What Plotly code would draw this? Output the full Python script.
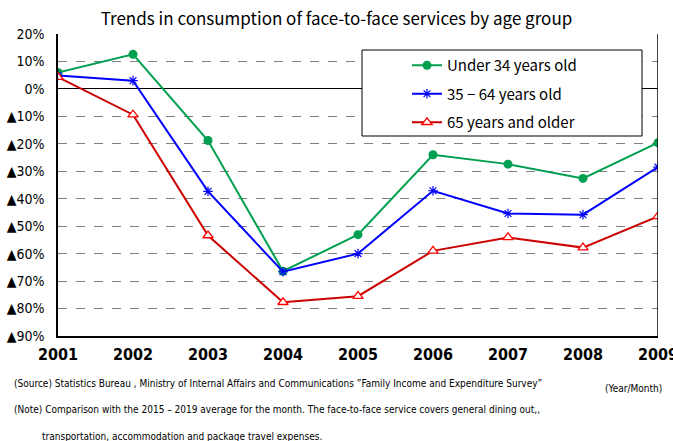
import plotly.graph_objects as go

years = [2001, 2002, 2003, 2004, 2005, 2006, 2007, 2008, 2009]
under34 = [6.0, 12.6, -18.8, -66.4, -53.1, -24.0, -27.4, -32.6, -19.6]
age35_64 = [4.9, 3.0, -37.3, -66.6, -60.0, -37.1, -45.4, -45.8, -28.5]
over65 = [4.3, -9.4, -53.4, -77.7, -75.5, -59.0, -54.1, -57.8, -46.4]

tick_vals = [20, 10, 0, -10, -20, -30, -40, -50, -60, -70, -80, -90]
tick_text = ["20%", "10%", "0%"] + ["▲%d%%" % (-v) for v in tick_vals[3:]]

FONT = "Noto Sans CJK JP"
NARROW = "DejaVu Sans Condensed, sans-serif"

fig = go.Figure()
fig.add_trace(go.Scatter(x=years, y=under34, name="Under 34 years old", mode="lines+markers",
                         legendgroup="a",
                         line=dict(color="#00a050", width=2),
                         marker=dict(symbol="circle", size=9, color="#00a050")))
fig.add_trace(go.Scatter(x=years, y=age35_64, name="35 − 64 years old", mode="lines+markers",
                         legendgroup="b",
                         line=dict(color="#0000ff", width=2),
                         marker=dict(symbol="asterisk-open", size=8, color="#0000ff", line=dict(width=1.2, color="#0000ff"))))
fig.add_trace(go.Scatter(x=years, y=over65, name="65 years and older", mode="lines+markers",
                         legendgroup="c",
                         line=dict(color="#cc0000", width=2),
                         marker=dict(symbol="triangle-up", size=9, color="white", line=dict(width=1.3, color="#ff0000"))))

fig.update_layout(
    width=673, height=441,
    margin=dict(l=58, r=15, t=34, b=105, autoexpand=False),
    paper_bgcolor="white", plot_bgcolor="white",
    font=dict(family=FONT, color="black", size=13),
    title=dict(text="Trends in consumption of face-to-face services by age group",
               x=0.5, xanchor="center", y=0.957, yanchor="middle",
               font=dict(size=17, family=FONT)),
    showlegend=True,
    legend=dict(x=(407 - 58) / 600, y=(336 - 49) / 302, xanchor="left", yanchor="top",
                borderwidth=0, bgcolor="rgba(0,0,0,0)",
                font=dict(size=15, family=FONT), itemwidth=30,
                tracegroupgap=6, traceorder="grouped"),
)
# legend box
fig.add_shape(type="rect", xref="paper", yref="paper",
              x0=(362 - 58) / 600, x1=(642 - 58) / 600,
              y0=(336 - 136) / 302, y1=(336 - 50) / 302,
              line=dict(color="black", width=1), fillcolor="white", layer="above")
fig.update_xaxes(range=[2001, 2009], tickvals=years, ticktext=[str(y) for y in years],
                 showgrid=False, showline=True, linecolor="black", linewidth=1.5,
                 mirror=False, tickfont=dict(size=16, family=NARROW, weight="bold"),
                 ticks="", ticklabelstandoff=3, automargin=False,
                 ticklabeloverflow="allow")
fig.update_yaxes(range=[-90, 20], tickvals=tick_vals, ticktext=tick_text,
                 showgrid=True, gridcolor="#808080", griddash="dash", gridwidth=1,
                 zeroline=True, zerolinecolor="black", zerolinewidth=1,
                 showline=True, linecolor="black", linewidth=1.5,
                 tickfont=dict(size=14, family=NARROW), ticks="", ticklabelstandoff=9,
                 automargin=False, ticklabeloverflow="allow")

# right border
fig.add_shape(type="line", xref="x", yref="paper", x0=2009, x1=2009, y0=0, y1=1,
              line=dict(color="black", width=1.5))

notes = [
    ("(Source) Statistics Bureau , Ministry of Internal Affairs and Communications \u201dFamily Income and Expenditure Survey\u201d", 12, 383),
    ("(Year/Month)", 603, 388),
    ("(Note) Comparison with the 2015 \u2013 2019 average for the month. The face-to-face service covers general dining out,,", 12, 409),
    ("transportation, accommodation and package travel expenses.", 40, 436),
]
for txt, px, py in notes:
    fig.add_annotation(text=txt, xref="paper", yref="paper",
                       x=(px - 58) / 600, y=(336 - py) / 302,
                       xanchor="left", yanchor="middle", showarrow=False,
                       font=dict(size=10, family=NARROW, color="black"))

fig.write_html("out.html", config={"displayModeBar": False},
               post_script="document.body.style.margin='0';")
